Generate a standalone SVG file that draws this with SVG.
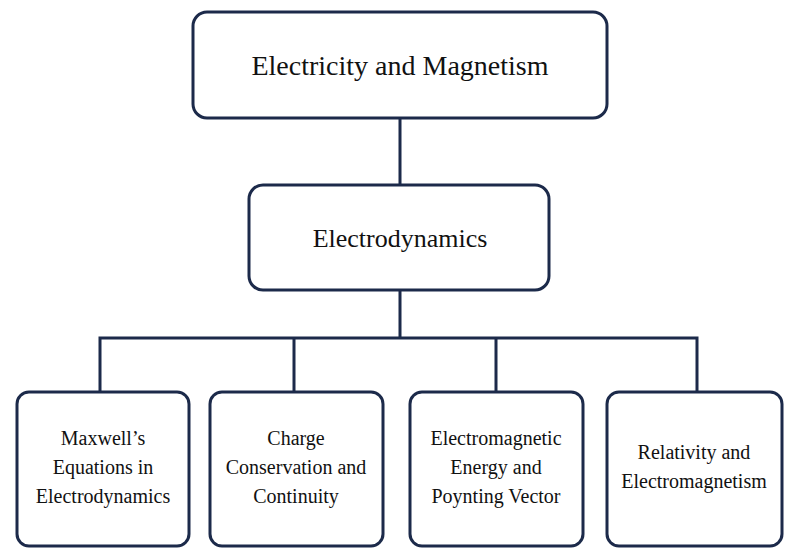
<svg xmlns="http://www.w3.org/2000/svg" width="800" height="555" viewBox="0 0 800 555">
<style>
.b{fill:#fff;stroke:#1c2a4a;stroke-width:3}
.c{fill:none;stroke:#1c2a4a;stroke-width:3}
text{font-family:"Liberation Serif",serif;fill:#111;text-anchor:middle}
.s{font-size:20px}
</style>
<rect width="800" height="555" fill="#fff"/>
<g id="connectors">
<path class="c" d="M400 118V185M400 290V338M100 392V338H697V392M294 338V392M496 338V392"/>
</g>
<g id="n1"><rect class="b" x="193" y="12" width="414" height="106" rx="14"/><text x="400" y="75" font-size="28">Electricity and Magnetism</text></g>
<g id="n2"><rect class="b" x="249" y="185" width="300" height="105" rx="14"/><text x="400" y="247" font-size="26">Electrodynamics</text></g>
<g id="n3"><rect class="b" x="17" y="392" width="172" height="154" rx="12"/><text class="s" x="103" y="445">Maxwell’s</text><text class="s" x="103" y="474">Equations in</text><text class="s" x="103" y="503">Electrodynamics</text></g>
<g id="n4"><rect class="b" x="210" y="392" width="173" height="154" rx="12"/><text class="s" x="296" y="445">Charge</text><text class="s" x="296" y="474">Conservation and</text><text class="s" x="296" y="503">Continuity</text></g>
<g id="n5"><rect class="b" x="410" y="392" width="173" height="154" rx="12"/><text class="s" x="496" y="445">Electromagnetic</text><text class="s" x="496" y="474">Energy and</text><text class="s" x="496" y="503">Poynting Vector</text></g>
<g id="n6"><rect class="b" x="607" y="392" width="175" height="154" rx="12"/><text class="s" x="694" y="459">Relativity and</text><text class="s" x="694" y="488">Electromagnetism</text></g>
</svg>
